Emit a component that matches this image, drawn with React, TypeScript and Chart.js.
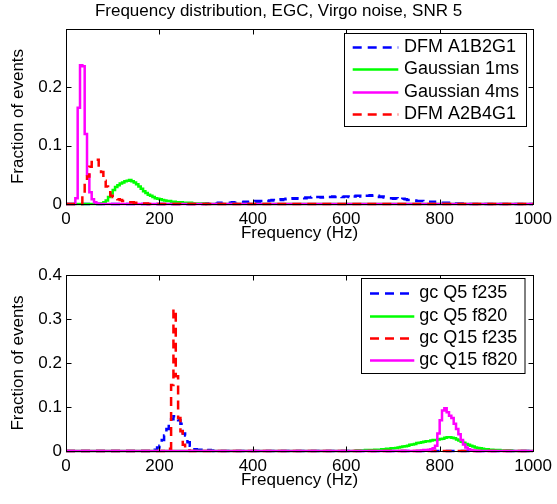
import React, { useEffect, useRef } from "react";
import { Chart, registerables } from "chart.js";
Chart.register(...registerables);

// ---------- data ----------
const BIN_HZ = 5;
const X_MIN = 0;
const X_MAX = 1000;
const X_TICKS = [0, 200, 400, 600, 800, 1000];
const TOP_Y_TICKS = [0, 0.1, 0.2];
const TOP_Y_MAX = 0.3;
const BOTTOM_Y_TICKS = [0, 0.1, 0.2, 0.3, 0.4];
const BOTTOM_Y_MAX = 0.4;

const TITLE = "Frequency distribution, EGC, Virgo noise, SNR 5";
const X_LABEL = "Frequency (Hz)";
const Y_LABEL = "Fraction of events";

const TOP_LABELS = ["DFM A1B2G1", "Gaussian 1ms", "Gaussian 4ms", "DFM A2B4G1"];
const BOTTOM_LABELS = ["gc Q5 f235", "gc Q5 f820", "gc Q15 f235", "gc Q15 f820"];

// top panel (first bin start frequency, then fractions per 5 Hz bin)
const dfmA1B2G1Start = 300;
const dfmA1B2G1 = [
  0.001, 0.001, 0.001, 0.001, 0.001, 0.002, 0.001, 0.002, 0.002, 0.002,
  0.002, 0.003, 0.002, 0.003, 0.003, 0.003, 0.004, 0.003, 0.004, 0.004,
  0.004, 0.005, 0.004, 0.005, 0.005, 0.006, 0.005, 0.006, 0.007, 0.006,
  0.007, 0.008, 0.007, 0.008, 0.009, 0.008, 0.009, 0.010, 0.009, 0.010,
  0.010, 0.011, 0.010, 0.011, 0.011, 0.012, 0.011, 0.012, 0.012, 0.011,
  0.012, 0.013, 0.012, 0.012, 0.013, 0.012, 0.013, 0.013, 0.012, 0.013,
  0.013, 0.012, 0.014, 0.013, 0.014, 0.014, 0.013, 0.015, 0.014, 0.014,
  0.015, 0.014, 0.013, 0.014, 0.012, 0.013, 0.011, 0.011, 0.010, 0.010,
  0.009, 0.010, 0.009, 0.008, 0.009, 0.008, 0.007, 0.007, 0.006, 0.006,
  0.005, 0.005, 0.005, 0.004, 0.004, 0.004, 0.003, 0.004, 0.003, 0.003,
  0.002, 0.002, 0.002, 0.002, 0.001, 0.002, 0.001, 0.001, 0.001, 0.001,
  0.001, 0.001,
];
const gaussian1msStart = 75;
const gaussian1ms = [
  0.001, 0.003, 0.006, 0.012, 0.018, 0.024, 0.029, 0.032, 0.035, 0.037,
  0.039, 0.040, 0.041, 0.039, 0.037, 0.034, 0.030, 0.026, 0.022, 0.019,
  0.016, 0.014, 0.012, 0.010, 0.009, 0.008, 0.007, 0.006, 0.005, 0.005,
  0.004, 0.004, 0.003, 0.003, 0.003, 0.002, 0.002, 0.002, 0.002, 0.001,
  0.001, 0.001, 0.001, 0.001, 0.001,
];
const gaussian4msStart = 20;
const gaussian4ms = [0.01, 0.165, 0.238, 0.236, 0.12, 0.05, 0.02, 0.008, 0.003, 0.001];
const dfmA2B4G1Start = 35;
const dfmA2B4G1 = [
  0.019, 0.035, 0.047, 0.064, 0.072, 0.075, 0.076, 0.062, 0.055, 0.04,
  0.03, 0.02, 0.014, 0.012, 0.01, 0.008, 0.007, 0.005, 0.004, 0.004,
  0.003, 0.003, 0.002, 0.002, 0.002, 0.001, 0.001, 0.001,
];

// bottom panel
const gcQ5f235Start = 185;
const gcQ5f235 = [
  0.002, 0.003, 0.008, 0.012, 0.025, 0.035, 0.05, 0.06, 0.072, 0.079,
  0.078, 0.07, 0.062, 0.04, 0.035, 0.02, 0.012, 0.008, 0.004, 0.003,
  0.003, 0.002, 0.001, 0.001, 0.002, 0.001,
];
const gcQ5f820Start = 620;
const gcQ5f820 = [
  0.001, 0.001, 0.001, 0.001, 0.002, 0.002, 0.002, 0.002, 0.003, 0.003,
  0.003, 0.004, 0.004, 0.005, 0.005, 0.006, 0.006, 0.007, 0.008, 0.009,
  0.010, 0.011, 0.012, 0.014, 0.015, 0.016, 0.018, 0.019, 0.020, 0.021,
  0.022, 0.022, 0.024, 0.025, 0.025, 0.026, 0.027, 0.028, 0.030, 0.031,
  0.031, 0.030, 0.029, 0.026, 0.024, 0.021, 0.019, 0.016, 0.014, 0.012,
  0.010, 0.008, 0.007, 0.006, 0.005, 0.004, 0.004, 0.003, 0.003, 0.002,
  0.002, 0.002, 0.001, 0.001, 0.001, 0.001, 0.001,
];
const gcQ15f235Start = 215;
const gcQ15f235 = [0.001, 0.005, 0.15, 0.322, 0.17, 0.075, 0.045, 0.014, 0.004, 0.001];
const gcQ15f820Start = 760;
const gcQ15f820 = [
  0.001, 0.002, 0.002, 0.003, 0.004, 0.006, 0.012, 0.04, 0.07, 0.092,
  0.097, 0.088, 0.08, 0.075, 0.062, 0.05, 0.038, 0.025, 0.015, 0.008,
  0.004, 0.002, 0.001,
];

// ---------- helpers ----------
function toPoints(start: number, values: number[]) {
  const pts: { x: number; y: number }[] = [];
  for (let f = X_MIN; f <= X_MAX; f += BIN_HZ) {
    const i = Math.round((f - start) / BIN_HZ);
    pts.push({ x: f, y: i >= 0 && i < values.length ? values[i] : 0 });
  }
  return pts;
}

const FONT_FAMILY = '"Liberation Sans", Arial, Helvetica, sans-serif';
const FONT_SIZE = 17;
const LEGEND_FONT_SIZE = 18;
const BLUE = "#0000ff";
const GREEN = "#00ff00";
const MAGENTA = "#ff00ff";
const RED = "#ff0000";
const DASH = [9, 6];
const LW = 2.5;

function ds(label: string, data: any, color: string, dashed: boolean, order: number) {
  return {
    label,
    data,
    borderColor: color,
    backgroundColor: color,
    borderWidth: LW,
    borderDash: dashed ? DASH : [],
    stepped: true,
    pointRadius: 0,
    fill: false,
    clip: 4,
    order,
  };
}

const matlabAxes = {
  id: "matlabAxes",
  afterDatasetsDraw(chart: any, _args: any, opts: any) {
    const { ctx, chartArea: a, scales } = chart;
    ctx.save();
    ctx.strokeStyle = "#000";
    ctx.lineWidth = 1;
    const L = Math.round(a.left) + 0.5;
    const R = Math.round(a.right) + 0.5;
    const T = Math.round(a.top) + 0.5;
    const B = Math.round(a.bottom) + 0.5;
    ctx.strokeRect(L, T, R - L, B - T);
    const tl = 5;
    ctx.beginPath();
    for (const t of scales.x.ticks) {
      const px = Math.round(scales.x.getPixelForValue(t.value)) + 0.5;
      ctx.moveTo(px, B);
      ctx.lineTo(px, B - tl);
      ctx.moveTo(px, T);
      ctx.lineTo(px, T + tl);
    }
    for (const t of scales.y.ticks) {
      const py = Math.round(scales.y.getPixelForValue(t.value)) + 0.5;
      ctx.moveTo(L, py);
      ctx.lineTo(L + tl, py);
      ctx.moveTo(R, py);
      ctx.lineTo(R - tl, py);
    }
    ctx.stroke();

    const lg = opts && opts.legend;
    if (lg) {
      ctx.fillStyle = "#fff";
      ctx.fillRect(lg.left, lg.top, lg.width, lg.height);
      ctx.strokeStyle = "#000";
      ctx.lineWidth = 1;
      ctx.strokeRect(lg.left, lg.top, lg.width, lg.height);
      ctx.font = `${lg.fontSize}px ${FONT_FAMILY}`;
      ctx.textBaseline = "middle";
      ctx.textAlign = "left";
      chart.data.datasets.forEach((d: any, i: number) => {
        const y = Math.round(lg.rowStart + i * lg.rowStep) + 0.5;
        ctx.beginPath();
        ctx.strokeStyle = d.borderColor;
        ctx.lineWidth = d.borderWidth;
        ctx.setLineDash(d.borderDash || []);
        ctx.moveTo(lg.sampleX, y);
        ctx.lineTo(lg.sampleX + lg.sampleLen, y);
        ctx.stroke();
        ctx.setLineDash([]);
        ctx.fillStyle = "#000";
        ctx.fillText(d.label, lg.textX, y);
      });
    }
    ctx.restore();
  },
};

function makeConfig(p: {
  datasets: any[];
  yTicks: number[];
  yMax: number;
  title: boolean;
  padTop: number;
  xAxisH: number;
  xTitlePad: number;
  legend: any;
}) {
  const font = { family: FONT_FAMILY, size: FONT_SIZE };
  return {
    type: "line",
    data: { datasets: p.datasets },
    plugins: [matlabAxes],
    options: {
      animation: false,
      responsive: false,
      maintainAspectRatio: false,
      devicePixelRatio: 1,
      events: [],
      layout: { autoPadding: false, padding: { top: p.padTop, right: 22, left: 22, bottom: 0 } },
      plugins: {
        legend: { display: false },
        tooltip: { enabled: false },
        title: p.title
          ? { display: true, text: TITLE, color: "#000", font: { ...font, weight: "normal" }, padding: { top: 1, bottom: 7.6 } }
          : { display: false },
        matlabAxes: { legend: p.legend },
      },
      scales: {
        x: {
          type: "linear",
          min: X_MIN,
          max: X_MAX,
          afterBuildTicks: (s: any) => {
            s.ticks = X_TICKS.map((v) => ({ value: v }));
          },
          afterFit: (s: any) => {
            s.height = p.xAxisH;
          },
          grid: { display: false, drawTicks: false },
          border: { display: false },
          ticks: { padding: 5, font, color: "#000", autoSkip: false, maxRotation: 0, callback: (v: any) => String(v) },
          title: { display: true, text: X_LABEL, color: "#000", font, padding: { top: 0, bottom: p.xTitlePad } },
        },
        y: {
          type: "linear",
          min: 0,
          max: p.yMax,
          afterBuildTicks: (s: any) => {
            s.ticks = p.yTicks.map((v) => ({ value: v }));
          },
          afterFit: (s: any) => {
            s.width = 44;
          },
          grid: { display: false, drawTicks: false },
          border: { display: false },
          ticks: { padding: 4, font, color: "#000", autoSkip: false, callback: (v: any) => String(v) },
          title: { display: true, text: Y_LABEL, color: "#000", font, padding: { top: -14.2, bottom: 0 } },
        },
      },
    },
  };
}

function Panel(props: { top: number; height: number; config: any }) {
  const ref = useRef<HTMLCanvasElement | null>(null);
  useEffect(() => {
    if (!ref.current) return;
    const chart = new Chart(ref.current, props.config);
    return () => chart.destroy();
  }, []);
  return (
    <canvas
      ref={ref}
      width={557}
      height={props.height}
      style={{ position: "absolute", left: 0, top: props.top, width: 557, height: props.height, display: "block" }}
    />
  );
}

export default function App() {
  const topConfig = makeConfig({
    datasets: [
      ds(TOP_LABELS[0], toPoints(dfmA1B2G1Start, dfmA1B2G1), BLUE, true, 3),
      ds(TOP_LABELS[1], toPoints(gaussian1msStart, gaussian1ms), GREEN, false, 2),
      ds(TOP_LABELS[2], toPoints(gaussian4msStart, gaussian4ms), MAGENTA, false, 1),
      ds(TOP_LABELS[3], toPoints(dfmA2B4G1Start, dfmA2B4G1), RED, true, 0),
    ],
    yTicks: TOP_Y_TICKS,
    yMax: TOP_Y_MAX,
    title: true,
    padTop: 0,
    xAxisH: 46,
    xTitlePad: 6,
    legend: { left: 344.5, top: 33.5, width: 182, height: 93, rowStart: 46.8, rowStep: 22.5, sampleX: 352.7, sampleLen: 45.6, textX: 404, fontSize: LEGEND_FONT_SIZE },
  });
  const bottomConfig = makeConfig({
    datasets: [
      ds(BOTTOM_LABELS[0], toPoints(gcQ5f235Start, gcQ5f235), BLUE, true, 3),
      ds(BOTTOM_LABELS[1], toPoints(gcQ5f820Start, gcQ5f820), GREEN, false, 2),
      ds(BOTTOM_LABELS[2], toPoints(gcQ15f235Start, gcQ15f235), RED, true, 1),
      ds(BOTTOM_LABELS[3], toPoints(gcQ15f820Start, gcQ15f820), MAGENTA, false, 0),
    ],
    yTicks: BOTTOM_Y_TICKS,
    yMax: BOTTOM_Y_MAX,
    title: false,
    padTop: 25,
    xAxisH: 53,
    xTitlePad: 13,
    legend: { left: 361.5, top: 28.5, width: 163.5, height: 95, rowStart: 43.3, rowStep: 22.2, sampleX: 370, sampleLen: 44.3, textX: 419.3, fontSize: LEGEND_FONT_SIZE },
  });
  return (
    <div style={{ position: "fixed", left: 0, top: 0, width: 557, height: 504, background: "#fff" }}>
      <Panel top={0} height={250} config={topConfig} />
      <Panel top={250} height={254} config={bottomConfig} />
    </div>
  );
}
